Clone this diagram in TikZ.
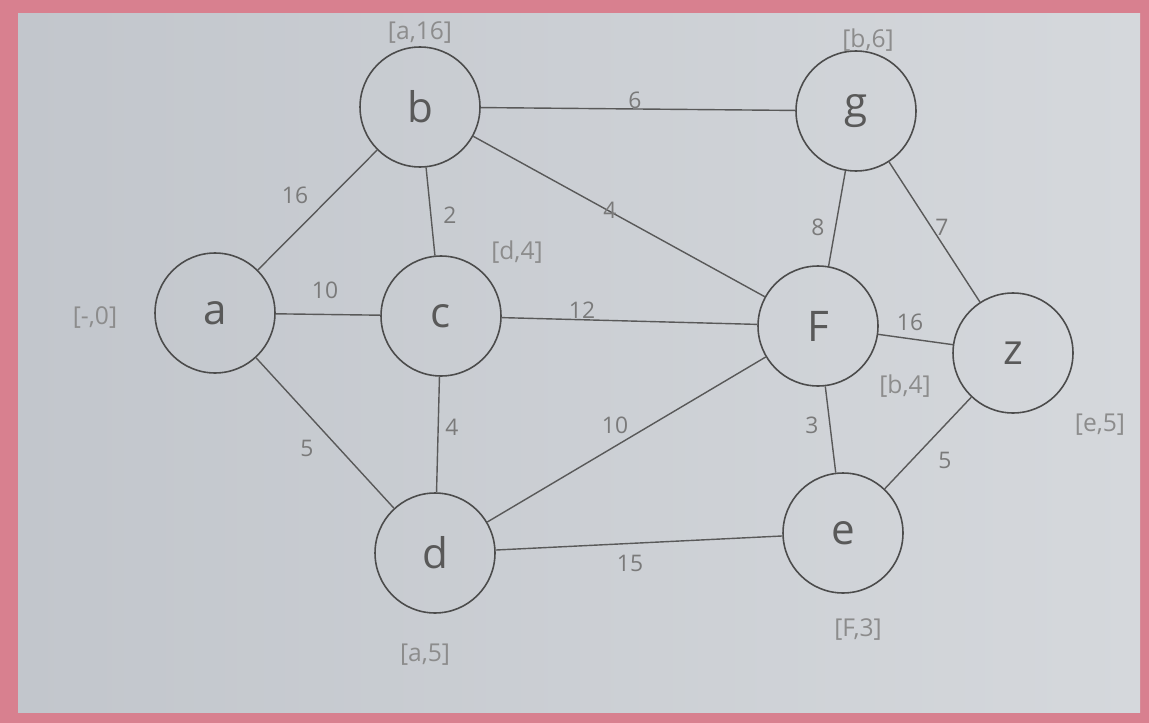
\documentclass[tikz,border=0pt]{standalone}
\usepackage{fontspec}
\setmainfont{Open Sans}
\definecolor{frame}{HTML}{D8808F}
\definecolor{paperleft}{HTML}{C2C6CC}
\definecolor{paperright}{HTML}{D5D8DC}
\begin{document}
\begin{tikzpicture}[x=0.02cm, y=-0.02cm,
    vertex/.style={circle, draw=black!70, line width=0.9pt, minimum size=2.4cm,
      inner sep=0pt, text=black!65, font=\fontsize{24}{24}\selectfont},
    edge/.style={draw=black!65, line width=0.8pt},
    weight/.style={text=black!52, font=\fontsize{13}{13}\selectfont, inner sep=1pt},
    tag/.style={text=black!45, font=\fontsize{14}{14}\selectfont, inner sep=1pt}]
    % paper and border
    \fill[frame] (0,0) rectangle (1149,723);
    \shade[left color=paperleft, right color=paperright]
      (18,14) rectangle (1140,712);

    \node[vertex] (a) at (215,313) {a};
    \node[vertex] (b) at (420,107) {b};
    \node[vertex] (c) at (441,316) {c};
    \node[vertex] (d) at (435,553) {d};
    \node[vertex] (g) at (856,111) {g};
    \node[vertex] (F) at (818,326) {F};
    \node[vertex] (z) at (1013,353) {z};
    \node[vertex] (e) at (843,533) {e};

    \draw[edge] (a) -- (b);
    \draw[edge] (a) -- (c);
    \draw[edge] (a) -- (d);
    \draw[edge] (b) -- (c);
    \draw[edge] (b) -- (g);
    \draw[edge] (b) -- (F);
    \draw[edge] (c) -- (F);
    \draw[edge] (c) -- (d);
    \draw[edge] (d) -- (F);
    \draw[edge] (d) -- (e);
    \draw[edge] (g) -- (F);
    \draw[edge] (g) -- (z);
    \draw[edge] (F) -- (z);
    \draw[edge] (F) -- (e);
    \draw[edge] (e) -- (z);

    % weights
    \node[weight] (wab) at (295,195) {16};
    \node[weight] (wac) at (325,290) {10};
    \node[weight] (wad) at (307,448) {5};
    \node[weight] (wbc) at (450,215) {2};
    \node[weight] (wbg) at (635,100) {6};
    \node[weight] (wbF) at (610,210) {4};
    \node[weight] (wcF) at (582,310) {12};
    \node[weight] (wcd) at (452,427) {4};
    \node[weight] (wdF) at (615,425) {10};
    \node[weight] (wde) at (630,563) {15};
    \node[weight] (wgF) at (818,227) {8};
    \node[weight] (wgz) at (942,227) {7};
    \node[weight] (wFz) at (910,322) {16};
    \node[weight] (wFe) at (812,425) {3};
    \node[weight] (wez) at (945,460) {5};

    % labels
    \node[tag] (la) at (95,318) {[-,0]};
    \node[tag] (lb) at (420,33) {[a,16]};
    \node[tag] (lc) at (517,252) {[d,4]};
    \node[tag] (ld) at (425,655) {[a,5]};
    \node[tag] (lg) at (868,40) {[b,6]};
    \node[tag] (lF) at (905,386) {[b,4]};
    \node[tag] (lz) at (1100,425) {[e,5]};
    \node[tag] (le) at (858,630) {[F,3]};
\end{tikzpicture}
\end{document}
